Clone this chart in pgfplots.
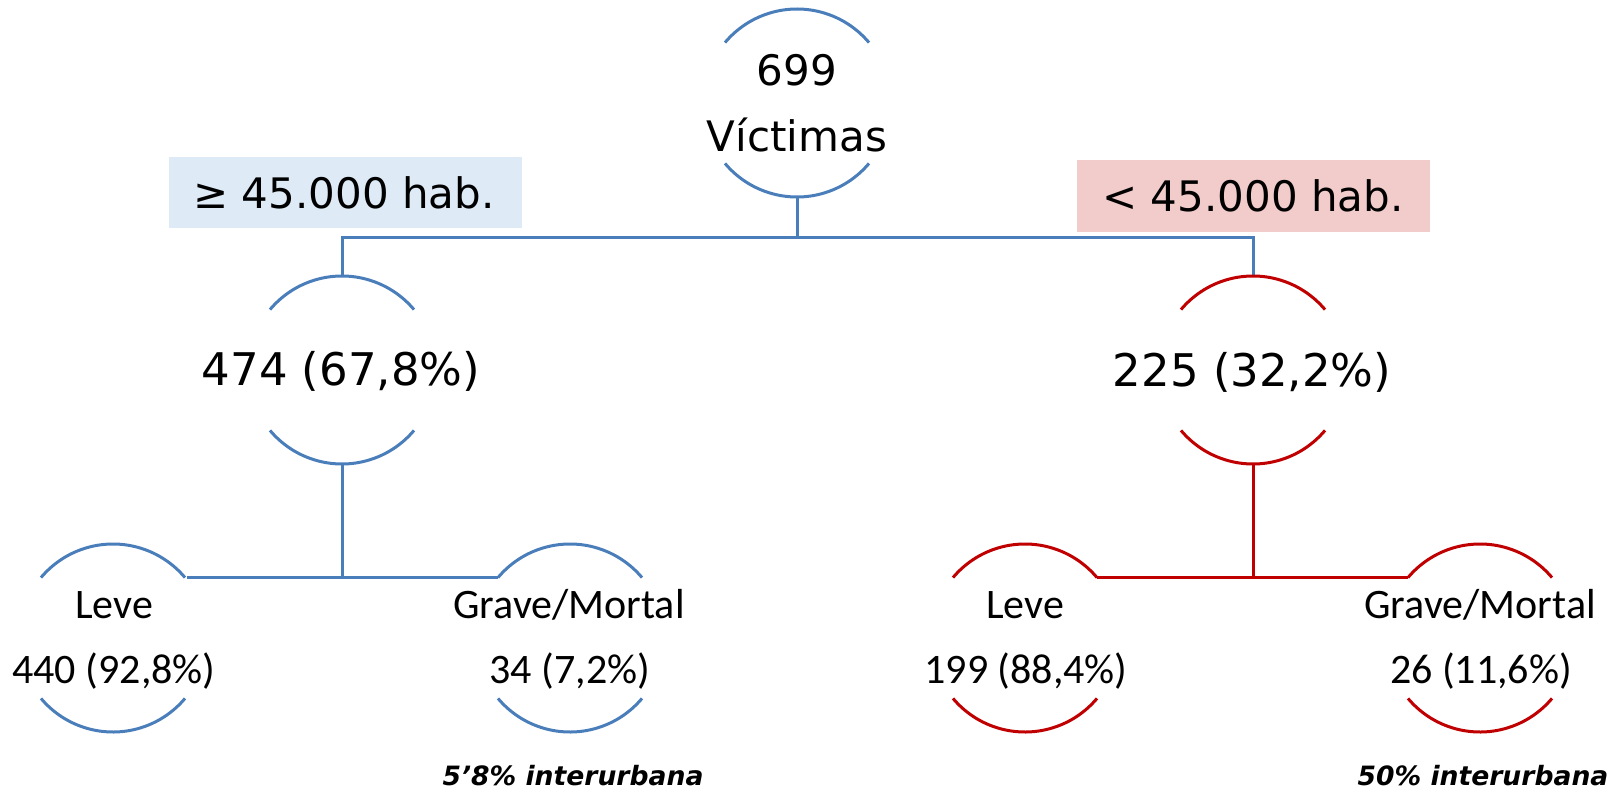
\documentclass[border=0pt]{standalone}
\usepackage{pgfplots}
\pgfplotsset{compat=1.18}
\usepackage{fontspec}
\setmainfont{DejaVu Sans}
\newfontfamily\calibri{Carlito}
\definecolor{lblue}{HTML}{4A7EBB}
\definecolor{lred}{HTML}{C00000}
\definecolor{boxblue}{HTML}{DEEAF6}
\definecolor{boxpink}{HTML}{F2CBCB}
\newcommand{\nodearcs}[3]{%
  \draw[#3, line width=1.5pt] (axis cs:#1,#2) ++(140:47pt) arc[start angle=140,end angle=40,radius=47pt];
  \draw[#3, line width=1.5pt] (axis cs:#1,#2) ++(220:47pt) arc[start angle=220,end angle=320,radius=47pt];
}
\begin{document}
\begin{tikzpicture}
\begin{axis}[
  width=811.5pt, height=396pt, scale only axis,
  xmin=0, xmax=1623, ymin=0, ymax=792, y dir=reverse,
  hide axis, clip=false,
]
% boxes
\addplot[fill=boxblue, draw=none] coordinates {(169,157) (522,157) (522,228) (169,228)} -- cycle;
\addplot[fill=boxpink, draw=none] coordinates {(1077,160) (1430,160) (1430,232) (1077,232)} -- cycle;
% connecting lines
\addplot[lblue, line width=1.5pt, mark=none] coordinates {(797,197) (797,237)};
\addplot[lblue, line width=1.5pt, mark=none] coordinates {(342,276) (342,237) (1253,237) (1253,276)};
\addplot[lblue, line width=1.5pt, mark=none] coordinates {(342,464) (342,577)};
\addplot[lblue, line width=1.5pt, mark=none] coordinates {(187,577) (498,577)};
\addplot[lred, line width=1.5pt, mark=none] coordinates {(1253,464) (1253,577)};
\addplot[lred, line width=1.5pt, mark=none] coordinates {(1097,577) (1408,577)};
% arcs
\nodearcs{797}{103}{lblue}
\nodearcs{342}{370}{lblue}
\nodearcs{1253}{370}{lred}
\nodearcs{113}{638}{lblue}
\nodearcs{570}{638}{lblue}
\nodearcs{1025}{638}{lred}
\nodearcs{1480}{638}{lred}
% texts
\node[anchor=base, font=\fontsize{21}{24}\selectfont, inner sep=0pt] at (axis cs:797,86) {699};
\node[anchor=base, font=\fontsize{21}{24}\selectfont, inner sep=0pt] at (axis cs:797,152) {Víctimas};
\node[anchor=base, font=\fontsize{21}{24}\selectfont, inner sep=0pt] at (axis cs:344,208) {≥ 45.000 hab.};
\node[anchor=base, font=\fontsize{21}{24}\selectfont, inner sep=0pt] at (axis cs:1253,212) {< 45.000 hab.};
\node[anchor=base, font=\fontsize{22.5}{25}\selectfont, inner sep=0pt] at (axis cs:341,385) {474 (67,8\%)};
\node[anchor=base, font=\fontsize{22.5}{25}\selectfont, inner sep=0pt] at (axis cs:1252,386) {225 (32,2\%)};
\node[anchor=base, font=\calibri\fontsize{21}{24}\selectfont, inner sep=0pt] at (axis cs:114,618) {Leve};
\node[anchor=base, font=\calibri\fontsize{21}{24}\selectfont, inner sep=0pt] at (axis cs:114,683) {440 (92,8\%)};
\node[anchor=base, font=\calibri\fontsize{21}{24}\selectfont, inner sep=0pt] at (axis cs:569,618) {Grave/Mortal};
\node[anchor=base, font=\calibri\fontsize{21}{24}\selectfont, inner sep=0pt] at (axis cs:570,683) {34 (7,2\%)};
\node[anchor=base, font=\calibri\fontsize{21}{24}\selectfont, inner sep=0pt] at (axis cs:1025,618) {Leve};
\node[anchor=base, font=\calibri\fontsize{21}{24}\selectfont, inner sep=0pt] at (axis cs:1026,683) {199 (88,4\%)};
\node[anchor=base, font=\calibri\fontsize{21}{24}\selectfont, inner sep=0pt] at (axis cs:1480,618) {Grave/Mortal};
\node[anchor=base, font=\calibri\fontsize{21}{24}\selectfont, inner sep=0pt] at (axis cs:1481,683) {26 (11,6\%)};
\node[anchor=base, font=\bfseries\itshape\fontsize{13.3}{15}\selectfont, inner sep=0pt] at (axis cs:573,785) {5’8\% interurbana};
\node[anchor=base, font=\bfseries\itshape\fontsize{13.3}{15}\selectfont, inner sep=0pt] at (axis cs:1483,785) {50\% interurbana};
\end{axis}
\pgfresetboundingbox
\path[use as bounding box] (current axis.south west) rectangle (current axis.north east);
\end{tikzpicture}
\end{document}
